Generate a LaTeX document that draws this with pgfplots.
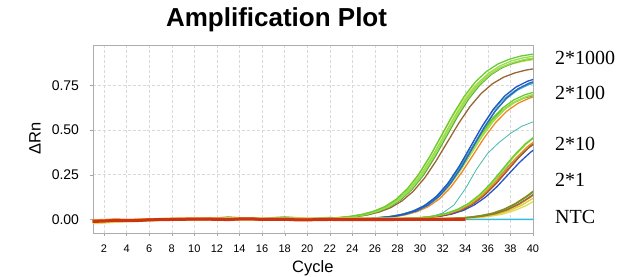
\documentclass[border=0pt]{standalone}
\usepackage{pgfplots}
\pgfplotsset{compat=1.18}
\usepackage{fontspec}
\setmainfont{Liberation Sans}
\newfontfamily\timesfont{Liberation Serif}
\definecolor{grnA}{HTML}{66CC33}
\definecolor{grnB}{HTML}{99DD55}
\definecolor{grnC}{HTML}{55AA33}
\definecolor{ygrn}{HTML}{AADD33}
\definecolor{lyel}{HTML}{DDDD55}
\definecolor{brn}{HTML}{996633}
\definecolor{blu}{HTML}{2255CC}
\definecolor{blu2}{HTML}{3366BB}
\definecolor{cyn}{HTML}{33AADD}
\definecolor{teal2}{HTML}{44BBAA}
\definecolor{org}{HTML}{EE8822}
\definecolor{redd}{HTML}{CC3311}
\definecolor{olive2}{HTML}{888822}
\definecolor{yel}{HTML}{DDCC33}
\definecolor{ntc}{HTML}{33BBDD}
\begin{document}
\begin{tikzpicture}
\path[use as bounding box] (-92.7bp,-44.3bp) rectangle (528.3bp,232.7bp);
\begin{axis}[
  at={(0,0)}, anchor=south west,
  scale only axis, width=440.3bp, height=187.7bp,
  xmin=1, xmax=40, ymin=-0.075, ymax=0.975,
  xtick={2,4,...,40}, ytick={0,0.25,0.5,0.75},
  /pgf/number format/assume math mode=true,
  grid=major, grid style={densely dashed, gray!30},
  axis line style={gray!65},
  tick pos=left, tick align=outside, major tick length=3bp,
  tick style={gray!70},
  yticklabel style={font=\fontsize{14bp}{16bp}\selectfont, anchor=east, inner sep=0pt, xshift=-10.5bp, /pgf/number format/fixed, /pgf/number format/fixed zerofill, /pgf/number format/precision=2},
  xticklabel style={font=\fontsize{11bp}{13bp}\selectfont, anchor=north, inner sep=0pt, yshift=-9bp},
  xlabel={Cycle}, ylabel={ΔRn},
  xlabel style={font=\fontsize{16.5bp}{18bp}\selectfont, at={(axis description cs:0.5,-0.188)}, anchor=center},
  ylabel style={font=\fontsize{16.5bp}{18bp}\selectfont, at={(axis description cs:-0.131,0.5)}, anchor=center},
  title={Amplification Plot},
  title style={font=\fontsize{26bp}{30bp}\selectfont\bfseries, at={(axis description cs:0.4175,1.069)}, anchor=base},
  no markers,
  every axis plot/.append style={line join=round, line width=1.3bp},
]
% NTC
\addplot[ntc, line width=1.5bp] coordinates {(1,-0.006)(4,-0.004)(8,0)(12,0)(16,0)(20,-0.001)(24,0)(28,0)(32,-0.001)(36,-0.001)(40,-0.001)};
% 2*1
\addplot[lyel] coordinates {(30.3,0.001)(31.3,0.001)(32.3,0.002)(33.3,0.004)(34.3,0.006)(35.3,0.010)(36.3,0.018)(37.3,0.029)(38.3,0.048)(39.3,0.074)(40.3,0.109)};
\addplot[yel] coordinates {(31,0.001)(32,0.002)(33,0.004)(34,0.006)(35,0.011)(36,0.019)(37,0.031)(38,0.051)(39,0.079)(40,0.117)};
\addplot[org] coordinates {(30.8,0.001)(31.8,0.002)(32.8,0.004)(33.8,0.007)(34.8,0.012)(35.8,0.020)(36.8,0.033)(37.8,0.054)(38.8,0.084)(39.8,0.124)(40.8,0.170)};
\addplot[brn] coordinates {(30.7,0.001)(31.7,0.002)(32.7,0.004)(33.7,0.007)(34.7,0.012)(35.7,0.020)(36.7,0.033)(37.7,0.054)(38.7,0.084)(39.7,0.124)(40.7,0.170)};
\addplot[grnC] coordinates {(30.5,0.001)(31.5,0.002)(32.5,0.004)(33.5,0.007)(34.5,0.012)(35.5,0.021)(36.5,0.034)(37.5,0.056)(38.5,0.087)(39.5,0.128)(40.5,0.175)};
\addplot[olive2] coordinates {(30.4,0.001)(31.4,0.002)(32.4,0.004)(33.4,0.007)(34.4,0.012)(35.4,0.021)(36.4,0.034)(37.4,0.056)(38.4,0.087)(39.4,0.128)(40.4,0.175)};
% outlier
\addplot[teal2, line width=0.8bp] coordinates {(28,0.001)(29,0.002)(30,0.006)(31,0.015)(32,0.035)(33,0.08)(34,0.17)(35,0.28)(36,0.37)(37,0.43)(38,0.48)(39,0.52)(40,0.545)};
% 2*10
\addplot[teal2, line width=0.8bp] coordinates {(27.1,0.002)(28.1,0.003)(29.1,0.006)(30.1,0.010)(31.1,0.017)(32.1,0.029)(33.1,0.049)(34.1,0.080)(35.1,0.124)(36.1,0.182)(37.1,0.250)(38.1,0.318)(39.1,0.376)(40.1,0.421)};
\addplot[blu] coordinates {(27.8,0.002)(28.8,0.003)(29.8,0.006)(30.8,0.010)(31.8,0.017)(32.8,0.029)(33.8,0.049)(34.8,0.080)(35.8,0.124)(36.8,0.182)(37.8,0.250)(38.8,0.318)(39.8,0.376)(40.8,0.421)};
\addplot[redd] coordinates {(27.7,0.002)(28.7,0.004)(29.7,0.006)(30.7,0.011)(31.7,0.019)(32.7,0.032)(33.7,0.053)(34.7,0.086)(35.7,0.134)(36.7,0.197)(37.7,0.270)(38.7,0.343)(39.7,0.406)(40.7,0.454)};
\addplot[brn] coordinates {(27.6,0.002)(28.6,0.004)(29.6,0.006)(30.6,0.011)(31.6,0.018)(32.6,0.031)(33.6,0.052)(34.6,0.084)(35.6,0.131)(36.6,0.193)(37.6,0.265)(38.6,0.337)(39.6,0.399)(40.6,0.446)};
\addplot[org] coordinates {(27.5,0.002)(28.5,0.004)(29.5,0.006)(30.5,0.011)(31.5,0.019)(32.5,0.032)(33.5,0.053)(34.5,0.086)(35.5,0.134)(36.5,0.197)(37.5,0.270)(38.5,0.343)(39.5,0.406)(40.5,0.454)};
\addplot[ygrn] coordinates {(27.4,0.002)(28.4,0.004)(29.4,0.007)(30.4,0.011)(31.4,0.019)(32.4,0.033)(33.4,0.055)(34.4,0.089)(35.4,0.139)(36.4,0.204)(37.4,0.280)(38.4,0.356)(39.4,0.421)(40.4,0.471)};
\addplot[grnA] coordinates {(27.3,0.002)(28.3,0.004)(29.3,0.007)(30.3,0.011)(31.3,0.019)(32.3,0.033)(33.3,0.055)(34.3,0.089)(35.3,0.139)(36.3,0.204)(37.3,0.280)(38.3,0.356)(39.3,0.421)(40.3,0.471)};
% 2*100
\addplot[org] coordinates {(22.7,0.001)(23.7,0.002)(24.7,0.003)(25.7,0.005)(26.7,0.008)(27.7,0.014)(28.7,0.025)(29.7,0.042)(30.7,0.070)(31.7,0.114)(32.7,0.178)(33.7,0.263)(34.7,0.360)(35.7,0.458)(36.7,0.542)(37.7,0.606)(38.7,0.650)(39.7,0.678)(40.7,0.695)};
\addplot[grnC] coordinates {(22.2,0.001)(23.2,0.002)(24.2,0.003)(25.2,0.005)(26.2,0.008)(27.2,0.014)(28.2,0.025)(29.2,0.042)(30.2,0.070)(31.2,0.114)(32.2,0.178)(33.2,0.263)(34.2,0.360)(35.2,0.458)(36.2,0.542)(37.2,0.606)(38.2,0.650)(39.2,0.678)(40.2,0.695)};
\addplot[ygrn] coordinates {(22.4,0.001)(23.4,0.002)(24.4,0.003)(25.4,0.005)(26.4,0.009)(27.4,0.015)(28.4,0.025)(29.4,0.043)(30.4,0.071)(31.4,0.116)(32.4,0.181)(33.4,0.266)(34.4,0.365)(35.4,0.464)(36.4,0.549)(37.4,0.614)(38.4,0.659)(39.4,0.687)(40.4,0.705)};
\addplot[grnB] coordinates {(22.5,0.001)(23.5,0.002)(24.5,0.003)(25.5,0.005)(26.5,0.009)(27.5,0.015)(28.5,0.025)(29.5,0.043)(30.5,0.071)(31.5,0.116)(32.5,0.181)(33.5,0.266)(34.5,0.365)(35.5,0.464)(36.5,0.549)(37.5,0.614)(38.5,0.659)(39.5,0.687)(40.5,0.705)};
\addplot[grnA] coordinates {(22.3,0.001)(23.3,0.002)(24.3,0.003)(25.3,0.005)(26.3,0.009)(27.3,0.015)(28.3,0.026)(29.3,0.043)(30.3,0.072)(31.3,0.118)(32.3,0.183)(33.3,0.270)(34.3,0.370)(35.3,0.470)(36.3,0.557)(37.3,0.622)(38.3,0.668)(39.3,0.697)(40.3,0.715)};
\addplot[teal2, line width=0.8bp] coordinates {(22.4,0.001)(23.4,0.002)(24.4,0.003)(25.4,0.005)(26.4,0.009)(27.4,0.016)(28.4,0.028)(29.4,0.047)(30.4,0.078)(31.4,0.127)(32.4,0.198)(33.4,0.292)(34.4,0.400)(35.4,0.508)(36.4,0.602)(37.4,0.673)(38.4,0.722)(39.4,0.753)(40.4,0.772)};
\addplot[cyn] coordinates {(22.6,0.001)(23.6,0.002)(24.6,0.003)(25.6,0.005)(26.6,0.009)(27.6,0.016)(28.6,0.028)(29.6,0.047)(30.6,0.078)(31.6,0.127)(32.6,0.198)(33.6,0.292)(34.6,0.400)(35.6,0.508)(36.6,0.602)(37.6,0.673)(38.6,0.722)(39.6,0.753)(40.6,0.772)};
\addplot[blu2] coordinates {(22.7,0.001)(23.7,0.002)(24.7,0.003)(25.7,0.005)(26.7,0.009)(27.7,0.016)(28.7,0.028)(29.7,0.047)(30.7,0.079)(31.7,0.129)(32.7,0.201)(33.7,0.295)(34.7,0.405)(35.7,0.515)(36.7,0.609)(37.7,0.681)(38.7,0.731)(39.7,0.763)(40.7,0.782)};
\addplot[blu] coordinates {(22.5,0.001)(23.5,0.002)(24.5,0.003)(25.5,0.006)(26.5,0.010)(27.5,0.016)(28.5,0.028)(29.5,0.048)(30.5,0.080)(31.5,0.130)(32.5,0.203)(33.5,0.299)(34.5,0.410)(35.5,0.521)(36.5,0.617)(37.5,0.690)(38.5,0.740)(39.5,0.772)(40.5,0.792)};
% 2*1000
\addplot[lyel] coordinates {(19.8,0.002)(20.8,0.004)(21.8,0.006)(22.8,0.010)(23.8,0.016)(24.8,0.027)(25.8,0.043)(26.8,0.069)(27.8,0.109)(28.8,0.166)(29.8,0.245)(30.8,0.344)(31.8,0.455)(32.8,0.567)(33.8,0.665)(34.8,0.744)(35.8,0.802)(36.8,0.841)(37.8,0.867)(38.8,0.883)(39.8,0.894)(40.8,0.900)};
\addplot[brn] coordinates {(20.4,0.002)(21.4,0.004)(22.4,0.006)(23.4,0.010)(24.4,0.016)(25.4,0.025)(26.4,0.041)(27.4,0.065)(28.4,0.103)(29.4,0.157)(30.4,0.231)(31.4,0.325)(32.4,0.430)(33.4,0.535)(34.4,0.629)(35.4,0.703)(36.4,0.758)(37.4,0.795)(38.4,0.819)(39.4,0.835)(40.4,0.845)};
\addplot[ygrn] coordinates {(20,0.002)(21,0.004)(22,0.006)(23,0.010)(24,0.016)(25,0.027)(26,0.043)(27,0.069)(28,0.109)(29,0.166)(30,0.245)(31,0.344)(32,0.455)(33,0.567)(34,0.665)(35,0.744)(36,0.802)(37,0.841)(38,0.867)(39,0.883)(40,0.894)(41,0.900)};
\addplot[grnC] coordinates {(20.3,0.002)(21.3,0.004)(22.3,0.006)(23.3,0.010)(24.3,0.017)(25.3,0.027)(26.3,0.044)(27.3,0.070)(28.3,0.110)(29.3,0.168)(30.3,0.247)(31.3,0.347)(32.3,0.460)(33.3,0.573)(34.3,0.673)(35.3,0.752)(36.3,0.810)(37.3,0.850)(38.3,0.876)(39.3,0.893)(40.3,0.903)(41.3,0.910)};
\addplot[grnB] coordinates {(20.2,0.002)(21.2,0.004)(22.2,0.006)(23.2,0.010)(24.2,0.017)(25.2,0.027)(26.2,0.044)(27.2,0.070)(28.2,0.110)(29.2,0.168)(30.2,0.247)(31.2,0.347)(32.2,0.460)(33.2,0.573)(34.2,0.673)(35.2,0.752)(36.2,0.810)(37.2,0.850)(38.2,0.876)(39.2,0.893)(40.2,0.903)(41.2,0.910)};
\addplot[grnB] coordinates {(20.1,0.002)(21.1,0.004)(22.1,0.006)(23.1,0.010)(24.1,0.017)(25.1,0.027)(26.1,0.044)(27.1,0.071)(28.1,0.111)(29.1,0.170)(30.1,0.250)(31.1,0.351)(32.1,0.465)(33.1,0.579)(34.1,0.680)(35.1,0.760)(36.1,0.819)(37.1,0.859)(38.1,0.886)(39.1,0.903)(40.1,0.913)(41.1,0.920)};
\addplot[grnA] coordinates {(19.9,0.002)(20.9,0.004)(21.9,0.006)(22.9,0.010)(23.9,0.017)(24.9,0.028)(25.9,0.045)(26.9,0.071)(27.9,0.112)(28.9,0.172)(29.9,0.253)(30.9,0.355)(31.9,0.470)(32.9,0.585)(33.9,0.687)(34.9,0.769)(35.9,0.828)(36.9,0.869)(37.9,0.895)(38.9,0.913)(39.9,0.923)(40.9,0.930)};
% baseline noise (early cycles of all wells), drawn over the curve feet
\addplot[grnC!80!white, line width=2.6bp] coordinates {(1,-0.016)(2,-0.014)(4,-0.007)(6,-0.004)(8,0)(10,0.002)(12,0.004)(13,0.01)(14,0.005)(16,0.002)(17,0.006)(18,0.01)(19,0.006)(20,0.002)(21,0.004)(22,0.007)(23,0.002)(24,0.004)(25,0.008)};
\addplot[yel!80!white, line width=3bp] coordinates {(1,-0.02)(2,-0.016)(3,-0.012)(4,-0.008)(5,-0.006)(6,-0.003)(8,0.002)(10,0.003)(12,0.003)(14,0.004)(16,0.002)(18,0.003)(20,0.002)(22,0.001)(24,0.003)(26,0.002)(28,0.002)(30,0.001)(32,0.002)(33,0.003)};
\addplot[org, line width=3bp] coordinates {(1,-0.008)(2,-0.006)(3,-0.003)(4,-0.005)(6,-0.002)(8,0)(10,0.001)(12,0.002)(14,0.001)(16,0)(18,0.001)(20,-0.001)(22,0.001)(24,0)(26,-0.001)(28,0)(30,0.001)(32,0)(34,0.001)};
\addplot[redd, line width=3bp] coordinates {(1,-0.012)(2,-0.01)(3,-0.006)(4,-0.008)(5,-0.007)(6,-0.003)(8,-0.001)(10,0.001)(12,0)(13,-0.002)(14,0.002)(15,0.003)(16,-0.001)(18,0)(19,-0.003)(20,-0.003)(22,-0.001)(24,-0.002)(26,-0.002)(28,-0.001)(30,0)(32,0)(34,0)};
\end{axis}
\begin{scope}[every node/.style={anchor=base west, inner sep=0pt, font=\timesfont\fontsize{20bp}{22bp}\selectfont}]
\node at (462.3bp,167.7bp) {2*1000};
\node at (462.3bp,132.7bp) {2*100};
\node at (462.3bp,81.7bp) {2*10};
\node at (462.3bp,45.7bp) {2*1};
\node at (462.3bp,9.7bp) {NTC};
\end{scope}
\end{tikzpicture}
\end{document}
